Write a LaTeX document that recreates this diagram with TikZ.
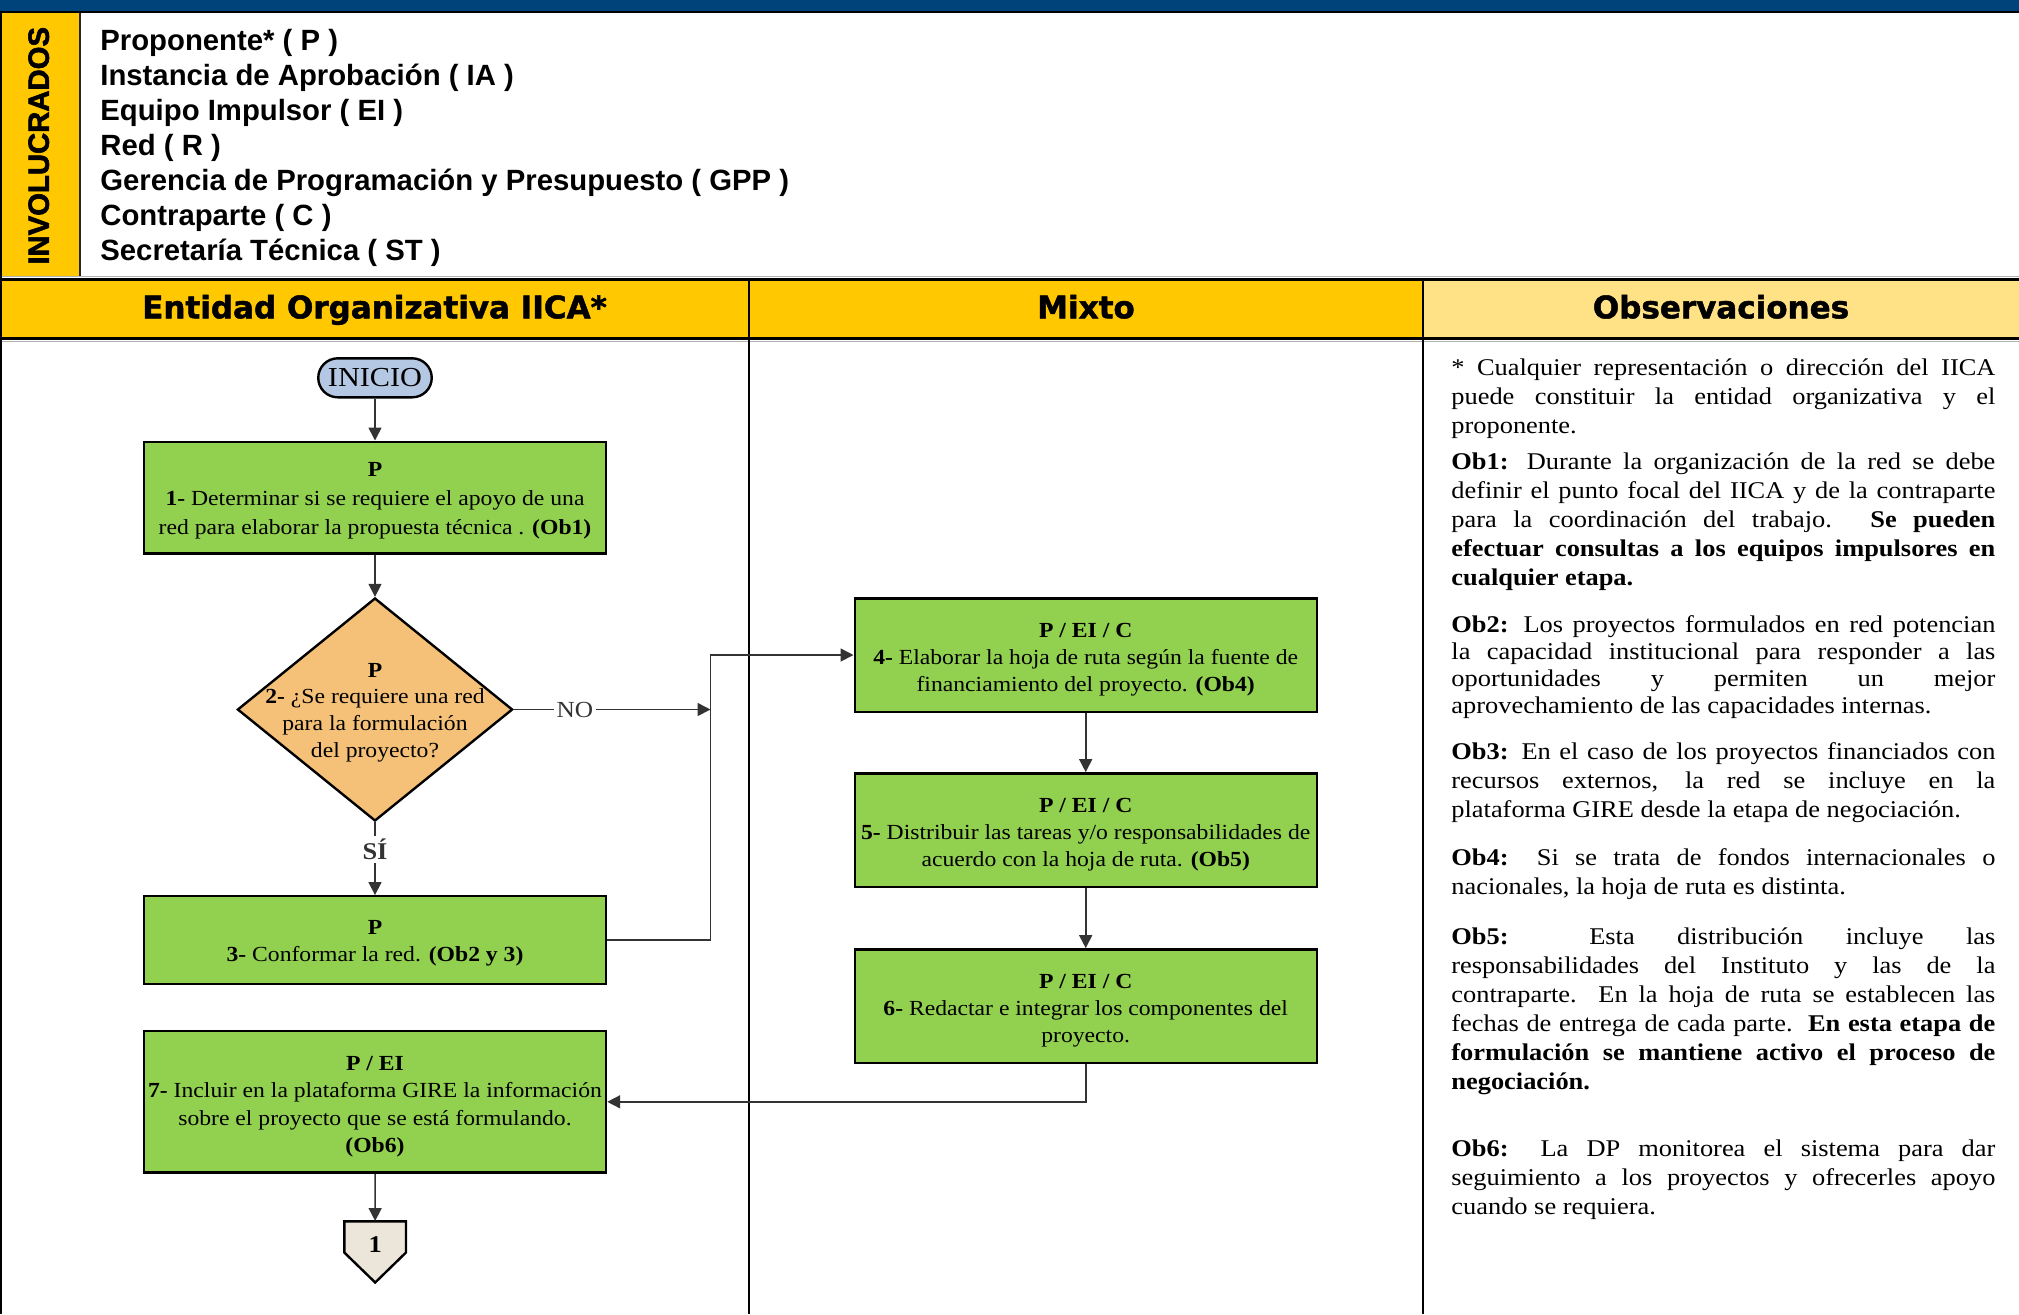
\documentclass[tikz,border=0pt]{standalone}
\usepackage{fontspec}
\setmainfont{Liberation Serif}[FakeStretch=1.1]
\newfontfamily\headfont{DejaVu Sans}[BoldFeatures={FakeBold=1.5}]
\newfontfamily\listfont{Liberation Sans}
\newfontfamily\sidefont{Liberation Sans}[BoldFeatures={FakeBold=2}]
\usetikzlibrary{shapes.geometric,arrows.meta}

\definecolor{topblue}{HTML}{00427A}
\definecolor{colgold}{HTML}{FFC800}
\definecolor{collight}{HTML}{FFE286}
\definecolor{procgreen}{HTML}{92D050}
\definecolor{askorange}{HTML}{F5C178}
\definecolor{startblue}{HTML}{B4C8E4}
\definecolor{pagebeige}{HTML}{ECE5DA}

\newcommand\boxfont{\fontsize{10.75pt}{13.6pt}\selectfont}
\newcommand\obsfont{\fontsize{12pt}{14.5pt}\selectfont\hyphenpenalty=10000 }
\newcommand\lift[1][12pt]{\rule{0pt}{#1}}

\begin{document}
\begin{tikzpicture}[x=0.5pt, y=-0.5pt,
	proc/.style={draw, line width=1.2pt, fill=procgreen, minimum width=231pt, inner sep=0pt, align=center, font=\boxfont},
	ask/.style={diamond, draw, line width=1.2pt, fill=askorange, minimum width=137.6pt, minimum height=111.5pt, inner sep=0pt},
	flow/.style={black!80, line width=0.8pt, -{Triangle[length=6.5pt, width=6.5pt]}},
	head/.style={anchor=base, font=\headfont\bfseries\fontsize{15.5pt}{18pt}\selectfont},
	obs/.style={anchor=north west, inner sep=0pt, text width=272pt, align=justify, font=\obsfont},
	bar/.style={line width=1.8pt}]
	\useasboundingbox (0,0) rectangle (2019,1314);

	% franja superior e involucrados
	\fill[topblue] (0,0) rectangle (2019,11.7);
	\fill[colgold] (0,13) rectangle (80,277);
	\draw[line width=1pt] (0,12.4) -- (2019,12.4);
	\draw[line width=0.6pt, black!85] (80,13) -- (80,277);
	\node[rotate=90, anchor=base, inner sep=0pt, font=\sidefont\bfseries\fontsize{14.65pt}{17pt}\selectfont] (invtitle) at (48.8,145.8) {INVOLUCRADOS};
	\foreach \who [count=\i] in {Proponente* ( P ), Instancia de Aprobación ( IA ), Equipo Impulsor ( EI ), Red ( R ), Gerencia de Programación y Presupuesto ( GPP ), Contraparte ( C ), Secretaría Técnica ( ST )}
		\node[anchor=base west, inner sep=0pt, font=\listfont\bfseries\fontsize{14.65pt}{17pt}\selectfont] (inv\i) at (100,{50.5+35*(\i-1)}) {\who};

	% encabezados de columna
	\draw[black!30, line width=0.6pt] (0,276.5) -- (2019,276.5);
	\fill[colgold] (0,280) rectangle (1423,338);
	\fill[collight] (1423,280) rectangle (2019,338);
	\draw[bar] (0,279.5) -- (2019,279.5);
	\draw[bar] (0,338.5) -- (2019,338.5);
	\draw[black!30, line width=0.6pt] (0,341.5) -- (2019,341.5);
	\draw[line width=1.2pt] (749,279) -- (749,1314);
	\draw[line width=1.2pt] (1423,279) -- (1423,1314);
	\draw[line width=1.2pt] (0.6,12) -- (0.6,1314);
	\node[head] (hdent) at (374.5,318.3) {Entidad Organizativa IICA*};
	\node[head] (hdmix) at (1086,318.3) {Mixto};
	\node[head] (hdobs) at (1721,318.3) {Observaciones};

	% flujo
	\node[draw, line width=1.2pt, fill=startblue, rounded corners=9.75pt, minimum width=56.75pt, minimum height=19.5pt, inner sep=0pt, font=\fontsize{13.75pt}{16pt}\selectfont] (inicio) at (375,377.8) {INICIO};
	\node[proc, minimum height=55.8pt, font=\fontsize{10.75pt}{14.4pt}\selectfont] (det) at (375,497.5) {\textbf{P}\lift[10pt]\\ \textbf{1-} Determinar si se requiere el apoyo de una\\ red para elaborar la propuesta técnica . \textbf{(Ob1)}};
	\node[ask] (req) at (375,709.5) {};
	\node[align=center, inner sep=0pt, font=\fontsize{10.75pt}{13.4pt}\selectfont] (reqtext) at (375,712.5) {\textbf{P}\\ \textbf{2-} ¿Se requiere una red\\ para la formulación\\ del proyecto?};
	\node[proc, minimum height=43.75pt] (conf) at (375,940) {\textbf{P}\lift[10pt]\\ \textbf{3-} Conformar la red. \textbf{(Ob2 y 3)}};
	\node[proc, minimum height=70.85pt] (gire) at (375,1101.8) {\textbf{P / EI}\lift\\ \textbf{7-} Incluir en la plataforma GIRE la información\\ sobre el proyecto que se está formulando.\\ \textbf{(Ob6)}};
	\node[proc, minimum height=56.7pt] (hoja) at (1085.7,655) {\textbf{P / EI / C}\lift\\ \textbf{4-} Elaborar la hoja de ruta según la fuente de\\ financiamiento del proyecto. \textbf{(Ob4)}};
	\node[proc, minimum height=56.7pt] (dist) at (1085.7,830) {\textbf{P / EI / C}\lift\\ \textbf{5-} Distribuir las tareas y/o responsabilidades de\\ acuerdo con la hoja de ruta. \textbf{(Ob5)}};
	\node[proc, minimum height=56.7pt] (redac) at (1085.7,1006) {\textbf{P / EI / C}\lift\\ \textbf{6-} Redactar e integrar los componentes del\\ proyecto.};
	\draw[line width=1.2pt, fill=pagebeige] (344.3,1221.4) -- (406,1221.4) -- (406,1252.5) -- (375.2,1282.5) -- (344.3,1252.5) -- cycle;
	\node[minimum width=30.85pt, minimum height=23.1pt, inner sep=0pt, font=\bfseries\fontsize{12pt}{14pt}\selectfont] (off1) at (375.2,1244.5) {1};
	\coordinate (junction) at (710.5,709.5);

	\draw[flow] (inicio) -- (det);
	\draw[flow] (det) -- (req);
	\draw[flow] (req) -- node[pos=0.37, fill=white, inner sep=1.5pt, font=\bfseries\fontsize{12pt}{14pt}\selectfont] (si) {SÍ} (conf);
	\draw[flow] (req) -- node[pos=0.31, fill=white, inner sep=1.5pt, font=\fontsize{11.5pt}{14pt}\selectfont] (no) {NO} (junction);
	\draw[flow] (conf.east) -| (junction) |- (hoja.west);
	\draw[flow] (hoja) -- (dist);
	\draw[flow] (dist) -- (redac);
	\draw[flow] (redac.south) |- (gire.east);
	\draw[flow] (gire) -- (off1);

	% observaciones
	\node[obs] (obs0) at (1451,358.8) {* Cualquier representación o dirección del IICA\linebreak puede constituir la entidad organizativa y el\linebreak proponente.};
	\node[obs] (obs1) at (1451,452.8) {\textbf{Ob1:} Durante la organización de la red se debe\linebreak definir el punto focal del IICA y de la contraparte\linebreak para la coordinación del trabajo. \textbf{Se pueden\linebreak efectuar consultas a los equipos impulsores en\linebreak cualquier etapa.}};
	\node[obs, font=\obsfont\fontsize{12pt}{13.45pt}\selectfont] (obs2) at (1451,615.5) {\textbf{Ob2:} Los proyectos formulados en red potencian\linebreak la capacidad institucional para responder a las\linebreak oportunidades y permiten un mejor\linebreak aprovechamiento de las capacidades internas.};
	\node[obs] (obs3) at (1451,741.8) {\textbf{Ob3:} En el caso de los proyectos financiados con\linebreak recursos externos, la red se incluye en la\linebreak plataforma GIRE desde la etapa de negociación.};
	\node[obs] (obs4) at (1451,847.8) {\textbf{Ob4:} Si se trata de fondos internacionales o\linebreak nacionales, la hoja de ruta es distinta.};
	\node[obs] (obs5) at (1451,927.8) {\textbf{Ob5:} Esta distribución incluye las\linebreak responsabilidades del Instituto y las de la\linebreak contraparte.\ \ En la hoja de ruta se establecen las\linebreak fechas de entrega de cada parte.\ \ \textbf{En esta etapa de\linebreak formulación se mantiene activo el proceso de\linebreak negociación.}};
	\node[obs] (obs6) at (1451,1139.5) {\textbf{Ob6:} La DP monitorea el sistema para dar\linebreak seguimiento a los proyectos y ofrecerles apoyo\linebreak cuando se requiera.};
\end{tikzpicture}
\end{document}
